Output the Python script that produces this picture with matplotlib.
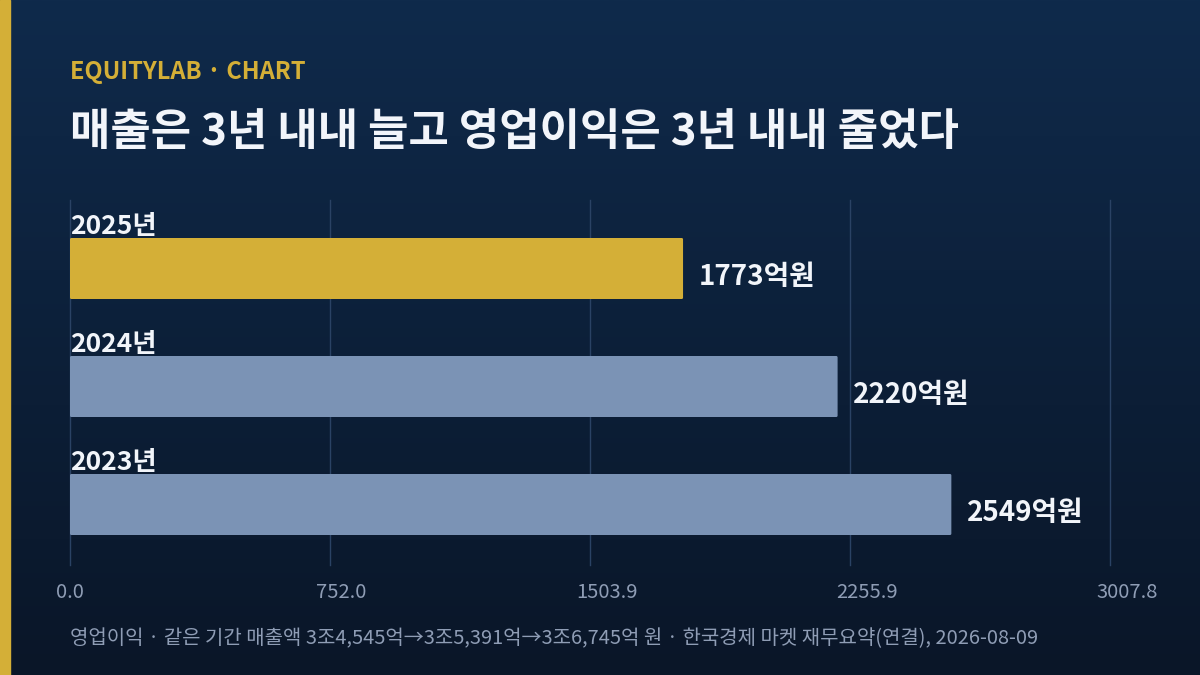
import numpy as np
import matplotlib
matplotlib.use("Agg")
import matplotlib.pyplot as plt
from matplotlib.patches import FancyBboxPatch, Rectangle

plt.rcParams['font.family'] = ['Noto Sans CJK KR', 'DejaVu Sans']

# -------------------------
# Data
# -------------------------
years = ["2025년", "2024년", "2023년"]
profit = [1773, 2220, 2549]          # 영업이익 (억원)
highlight = [True, False, False]
value_labels = ["1773억원", "2220억원", "2549억원"]

kicker = "EQUITYLAB · CHART"
title = "매출은 3년 내내 늘고 영업이익은 3년 내내 줄었다"
caption = ("영업이익 · 같은 기간 매출액 3조4,545억→3조5,391억→3조6,745억 원 · "
           "한국경제 마켓 재무요약(연결), 2026-08-09")

# -------------------------
# Style
# -------------------------
BG_TOP = "#0f2a4b"
BG_BOTTOM = "#0a1628"
GOLD = "#d4af37"
BAR = "#7b93b5"
GRID = "#2a4264"
TEXT = "#f2f5fa"
MUTED = "#8f9db5"

W, H = 1200, 675
PX = 72 / 100          # points per pixel at dpi 100
fig = plt.figure(figsize=(W / 100, H / 100), dpi=100)

# background gradient + gold stripe
bg = fig.add_axes([0, 0, 1, 1], zorder=0)
grad = np.linspace(0, 1, 256).reshape(-1, 1)
cmap = matplotlib.colors.LinearSegmentedColormap.from_list("bg", [BG_TOP, BG_BOTTOM])
bg.imshow(grad, aspect="auto", cmap=cmap, extent=[0, 1, 0, 1], origin="upper")
bg.add_patch(Rectangle((0, 0), 10 / W, 1, color=GOLD, transform=bg.transAxes))
bg.set_xlim(0, 1)
bg.set_ylim(0, 1)
bg.axis("off")

# -------------------------
# Chart
# -------------------------
x_max = max(profit) * 1.18
ax = fig.add_axes([70 / W, 1 - 565 / H, 1040 / W, 365 / H], zorder=1)
ax.patch.set_alpha(0)

bar_h = 61 / 118
for i, (v, hl) in enumerate(zip(profit, highlight)):
    ax.add_patch(FancyBboxPatch((0, i - bar_h / 2), v, bar_h,
                                boxstyle="round,pad=0,rounding_size=4",
                                mutation_aspect=1 / 340,
                                facecolor=GOLD if hl else BAR, edgecolor="none",
                                zorder=3))
    ax.text(v + 45, i + 0.07, value_labels[i], color=TEXT, fontsize=20,
            fontweight="bold", va="center", ha="left", zorder=4)
    ax.text(0, i - bar_h / 2 + 0.015, years[i], color=TEXT, fontsize=19,
            fontweight="bold", va="bottom", ha="left", zorder=4)

ax.set_xlim(0, x_max)
ax.set_ylim((565 - 268.5) / 118, (200 - 268.5) / 118)
ticks = np.linspace(0, x_max, 5)
ax.set_xticks([])
ax.set_yticks([])
for s in ax.spines.values():
    s.set_visible(False)

# grid lines (not clipped so the last one at x_max stays visible)
for t in ticks:
    ax.axvline(t, color=GRID, linewidth=1, zorder=0, clip_on=False)

# tick labels: left edge sits a little left of each grid line
for t in ticks:
    ax.annotate(f"{t:.1f}", xy=(t, 0), xycoords=("data", "axes fraction"),
                xytext=(-14 * PX, -27 * PX), textcoords="offset points",
                ha="left", va="center", color=MUTED, fontsize=14.5,
                annotation_clip=False)

# -------------------------
# Texts
# -------------------------
fig.text(70 / W, 1 - 72 / H, kicker, color=GOLD, fontsize=17, fontweight="bold",
         va="center", ha="left")
fig.text(70 / W, 1 - 132 / H, title, color=TEXT, fontsize=31.6, fontweight="bold",
         va="center", ha="left")
fig.text(70 / W, 1 - 639 / H, caption, color=MUTED, fontsize=14.4,
         va="center", ha="left")

fig.savefig("out.png", dpi=100)
